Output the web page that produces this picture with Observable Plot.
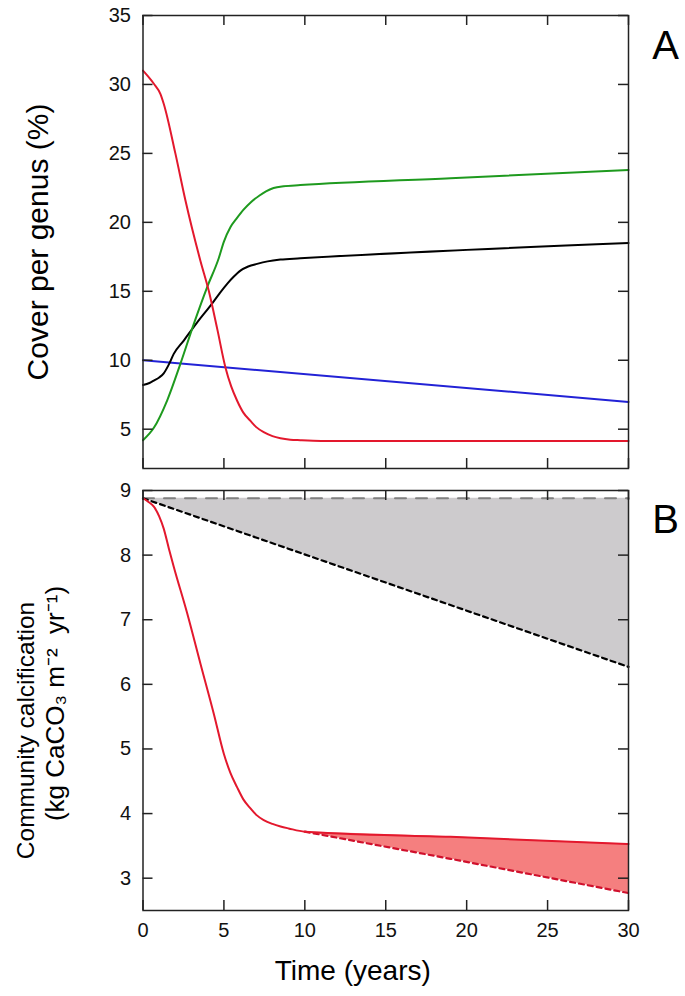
<!DOCTYPE html>
<html><head><meta charset="utf-8">
<script src="https://cdn.jsdelivr.net/npm/d3@7"></script>
<script src="https://cdn.jsdelivr.net/npm/@observablehq/plot@0.6"></script>
<style>body{margin:0;background:#fff} svg{display:block} #chart{width:685px}</style>
</head><body><div id="chart"></div>
<script>
// ---- tick values ----
const xTicks = [0, 5, 10, 15, 20, 25, 30];
const yTicksA = [5, 10, 15, 20, 25, 30, 35];
const yTicksB = [3, 4, 5, 6, 7, 8, 9];

// ---- Panel A: cover per genus (%) ----
const redA_t = [0, 0.3, 0.67, 1.08, 1.28, 2.0, 2.62, 3.55, 4.06, 4.6, 5.09, 5.45, 5.81, 6.2, 6.64, 7.0, 7.46, 8.0, 8.49, 9.1, 9.72, 11, 30];
const redA_v = [31.0, 30.6, 30.05, 29.3, 28.6, 25.0, 21.6, 17.2, 15.05, 12.2, 9.5, 8.1, 7.08, 6.2, 5.6, 5.15, 4.78, 4.5, 4.35, 4.24, 4.2, 4.15, 4.15];

const greenA_t = [0, 0.67, 1.49, 2.31, 3.14, 3.96, 4.68, 5.0, 5.4, 5.8, 6.2, 6.7, 7.2, 7.6, 8.07, 8.69, 9.72, 19, 30];
const greenA_v = [4.2, 5.1, 7.08, 9.74, 12.64, 15.29, 17.4, 18.6, 19.64, 20.3, 20.9, 21.5, 21.95, 22.25, 22.49, 22.62, 22.7, 23.2, 23.8];

const blackA_t = [0, 0.4, 0.67, 1.0, 1.28, 1.6, 1.9, 2.52, 3.35, 4.17, 4.7, 5.2, 5.6, 6.02, 6.5, 7.05, 7.7, 8.49, 9.72, 30];
const blackA_v = [8.2, 8.35, 8.53, 8.75, 9.05, 9.7, 10.46, 11.43, 12.75, 13.96, 14.8, 15.54, 16.05, 16.5, 16.8, 16.99, 17.17, 17.3, 17.39, 18.5];

const blueA_t = [0, 30];
const blueA_v = [10.0, 6.98];

// ---- Panel B: community calcification ----
const redB_t = [0, 0.3, 0.67, 1.0, 1.28, 1.6, 1.9, 2.73, 3.55, 4.37, 4.99, 5.4, 5.81, 6.2, 6.64, 7.0, 7.46, 8.0, 8.5, 9.0, 10.0, 19, 30];
const redB_v = [8.88, 8.83, 8.75, 8.6, 8.41, 8.1, 7.82, 7.10, 6.32, 5.55, 4.93, 4.63, 4.41, 4.22, 4.08, 3.98, 3.90, 3.84, 3.80, 3.77, 3.72, 3.64, 3.53];

const redDashB_t = [10, 19, 30];
const redDashB_v = [3.72, 3.30, 2.77];
const redTopB_v = [3.72, 3.64, 3.53];

const greyDashB_t = [0, 30];
const greyDashB_v = [8.88, 8.88];
const blackDashB_t = [0, 30];
const blackDashB_v = [8.88, 6.27];

// ---- tables built from the arrays ----
const zipTV = (t, v) => t.map((d, i) => ({t: d, v: v[i]}));
const redA = zipTV(redA_t, redA_v);
const greenA = zipTV(greenA_t, greenA_v);
const blackA = zipTV(blackA_t, blackA_v);
const blueA = zipTV(blueA_t, blueA_v);
const redB = zipTV(redB_t, redB_v);
const redDashB = zipTV(redDashB_t, redDashB_v);
const greyDashB = zipTV(greyDashB_t, greyDashB_v);
const blackDashB = zipTV(blackDashB_t, blackDashB_v);
const greyBand = blackDashB_t.map((d, i) => ({t: d, lo: blackDashB_v[i], hi: greyDashB_v[i]}));
const redBand = redDashB_t.map((d, i) => ({t: d, lo: redDashB_v[i], hi: redTopB_v[i]}));

// ---- layout / style ----
const FONT = "'Liberation Sans', Arial, Helvetica, sans-serif";
const W = 685, mL = 142.5, mR = 57;
const frameW = W - mL - mR;
const TICK = 10, INK = "#222";
const RED = "#e3182d", GREEN = "#1e9a1e", BLUE = "#2222d6";
const fmt = d3.format("d");

function frameTicks(yTicks, frameH) {
  const s = {stroke: INK, strokeWidth: 1.5};
  return [
    Plot.tickX(xTicks, {x: d => d, insetTop: frameH - TICK, ...s}),
    Plot.tickX(xTicks, {x: d => d, insetBottom: frameH - TICK, ...s}),
    Plot.tickY(yTicks, {y: d => d, insetRight: frameW - TICK, ...s}),
    Plot.tickY(yTicks, {y: d => d, insetLeft: frameW - TICK, ...s}),
    Plot.frame({stroke: INK, strokeWidth: 1.5})
  ];
}

// Panel A
const hA = 478, mTA = 15, mBA = 10;
const plotA = Plot.plot({
  width: W, height: hA, marginLeft: mL, marginRight: mR, marginTop: mTA, marginBottom: mBA,
  style: {fontFamily: FONT, background: "white", color: "#111", overflow: "visible"},
  x: {domain: [0, 30], axis: null},
  y: {domain: [2.15, 35]},
  marks: [
    Plot.line(blueA, {x: "t", y: "v", stroke: BLUE, strokeWidth: 2}),
    Plot.line(blackA, {x: "t", y: "v", stroke: "#000", strokeWidth: 2, curve: "monotone-x"}),
    Plot.line(greenA, {x: "t", y: "v", stroke: GREEN, strokeWidth: 2, curve: "monotone-x"}),
    Plot.line(redA, {x: "t", y: "v", stroke: RED, strokeWidth: 2, curve: "monotone-x"}),
    ...frameTicks(yTicksA, hA - mTA - mBA),
    Plot.axisY(yTicksA, {tickSize: 0, tickPadding: 12, fontSize: 20, tickFormat: fmt, label: null, fill: "#111"}),
    Plot.text(["A"], {text: d => d, frameAnchor: "top-right", dx: 37, dy: 43, lineAnchor: "bottom", textAnchor: "middle", fontSize: 40, fill: "#000"}),
    Plot.text(["Cover per genus (%)"], {text: d => d, frameAnchor: "left", rotate: -90, dx: -95.5, lineAnchor: "bottom", textAnchor: "middle", fontSize: 30, fill: "#000"})
  ]
});

// Panel B
const hB = 518, mTB = 12, mBB = 86;
const plotB = Plot.plot({
  width: W, height: hB, marginLeft: mL, marginRight: mR, marginTop: mTB, marginBottom: mBB,
  style: {fontFamily: FONT, background: "white", color: "#111", overflow: "visible"},
  x: {domain: [0, 30]},
  y: {domain: [2.5, 9]},
  marks: [
    Plot.areaY(greyBand, {x: "t", y1: "lo", y2: "hi", fill: "#cdcbcd"}),
    Plot.areaY(redBand, {x: "t", y1: "lo", y2: "hi", fill: "#f57f7f"}),
    Plot.line(greyDashB, {x: "t", y: "v", stroke: "#808080", strokeWidth: 2, strokeDasharray: "11,10"}),
    Plot.line(blackDashB, {x: "t", y: "v", stroke: "#000", strokeWidth: 2.2, strokeDasharray: "5,4"}),
    Plot.line(redDashB, {x: "t", y: "v", stroke: "#d0102c", strokeWidth: 2.2, strokeDasharray: "5,4"}),
    Plot.line(redB, {x: "t", y: "v", stroke: RED, strokeWidth: 2, curve: "monotone-x"}),
    ...frameTicks(yTicksB, hB - mTB - mBB),
    Plot.axisY(yTicksB, {tickSize: 0, tickPadding: 12, fontSize: 20, tickFormat: fmt, label: null, fill: "#111"}),
    Plot.axisX(xTicks, {tickSize: 0, tickPadding: 12, fontSize: 20, tickFormat: fmt, label: null, fill: "#111"}),
    Plot.text(["B"], {text: d => d, frameAnchor: "top-right", dx: 37, dy: 42, lineAnchor: "bottom", textAnchor: "middle", fontSize: 40, fill: "#000"}),
    Plot.text(["Community calcification"], {text: d => d, frameAnchor: "left", rotate: -90, dx: -109.5, dy: 30, lineAnchor: "bottom", textAnchor: "middle", fontSize: 24.5, fill: "#000"}),
    Plot.text(["(kg CaCO₃ m⁻²  yr⁻¹)"], {text: d => d, frameAnchor: "left", rotate: -90, dx: -79.5, dy: 3, lineAnchor: "bottom", textAnchor: "middle", fontSize: 26, fill: "#000"}),
    Plot.text(["Time (years)"], {text: d => d, frameAnchor: "bottom", dx: -33, dy: 69, lineAnchor: "bottom", textAnchor: "middle", fontSize: 28, fill: "#000"})
  ]
});

const chart = document.getElementById("chart");
chart.appendChild(plotA);
chart.appendChild(plotB);
</script>
</body></html>
